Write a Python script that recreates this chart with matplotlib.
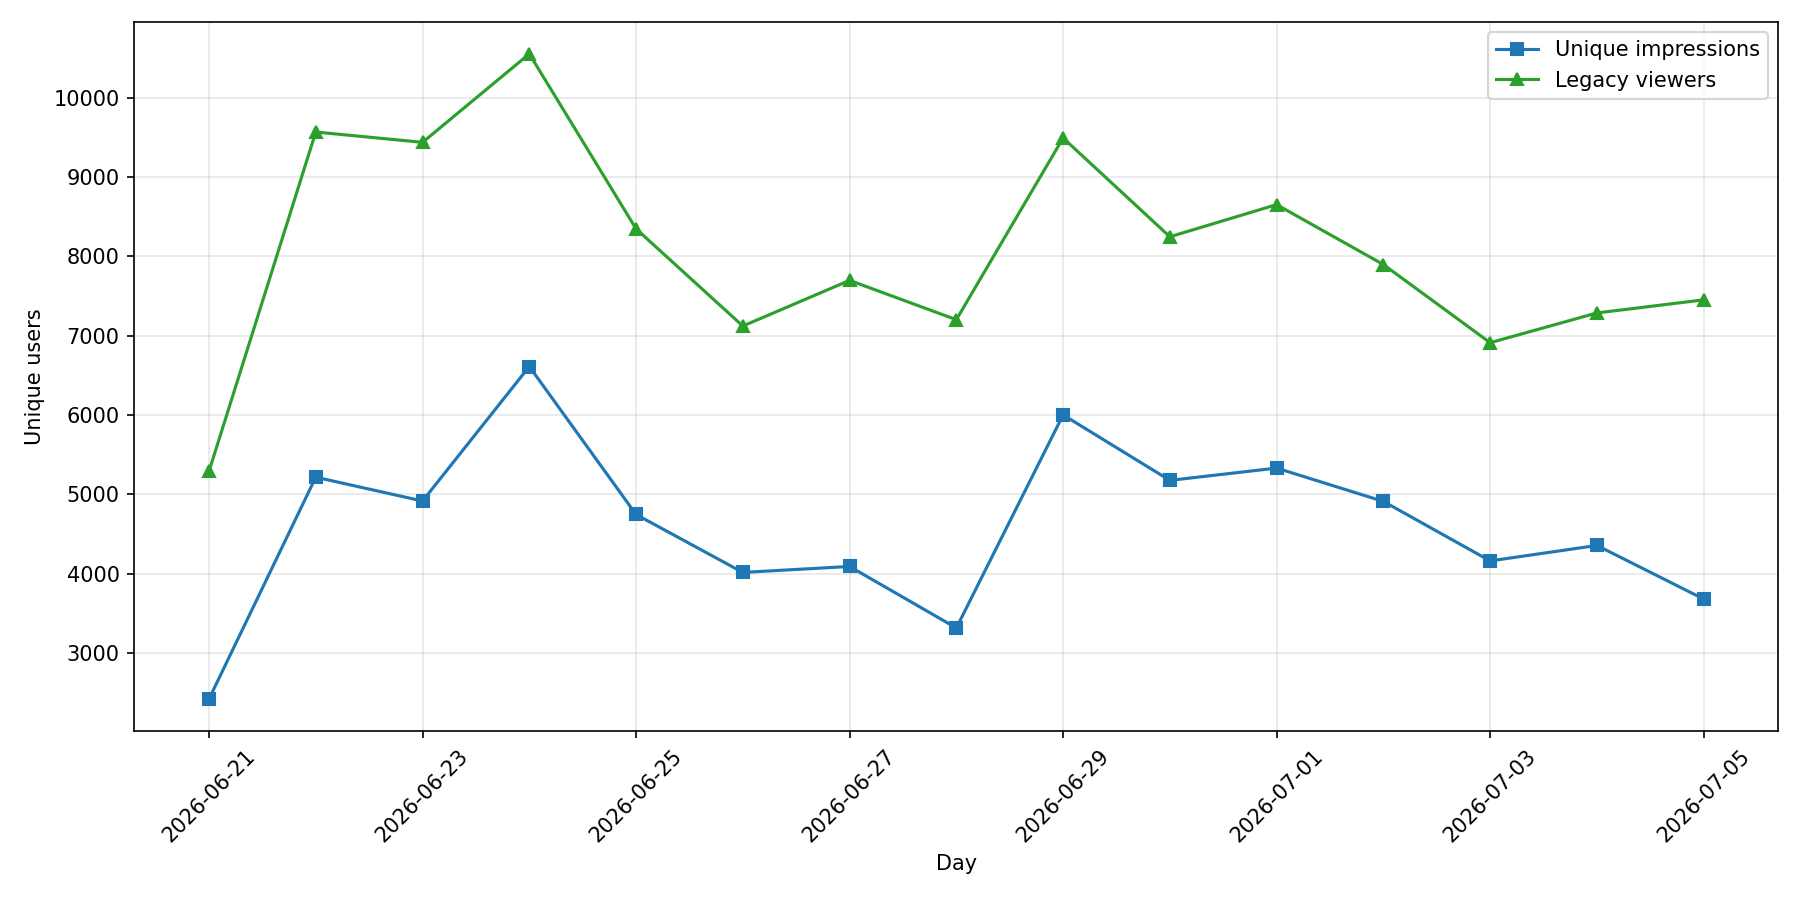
import numpy as np
import pandas as pd
import matplotlib
matplotlib.use("Agg")
import matplotlib.pyplot as plt
import matplotlib.dates as mdates

days = pd.date_range("2026-06-21", "2026-07-05", freq="D")
unique_impressions = [2420, 5215, 4915, 6610, 4745, 4015, 4090, 3315,
                      6000, 5175, 5330, 4910, 4160, 4355, 3680]
legacy_viewers = [5290, 9565, 9435, 10550, 8345, 7120, 7695, 7200,
                  9490, 8245, 8650, 7895, 6910, 7285, 7450]

fig, ax = plt.subplots(figsize=(12, 6), dpi=150)
ax.plot(days, unique_impressions, marker="s", color="tab:blue",
        label="Unique impressions")
ax.plot(days, legacy_viewers, marker="^", color="tab:green",
        label="Legacy viewers")

ax.set_xticks(days[::2])
ax.xaxis.set_major_formatter(mdates.DateFormatter("%Y-%m-%d"))
plt.setp(ax.get_xticklabels(), rotation=45)

ax.set_xlabel("Day")
ax.set_ylabel("Unique users")
ax.grid(True, alpha=0.3)
ax.legend(loc="upper right")

fig.subplots_adjust(left=0.0746, right=0.988, top=0.976, bottom=0.1875)
fig.savefig("out.png")
